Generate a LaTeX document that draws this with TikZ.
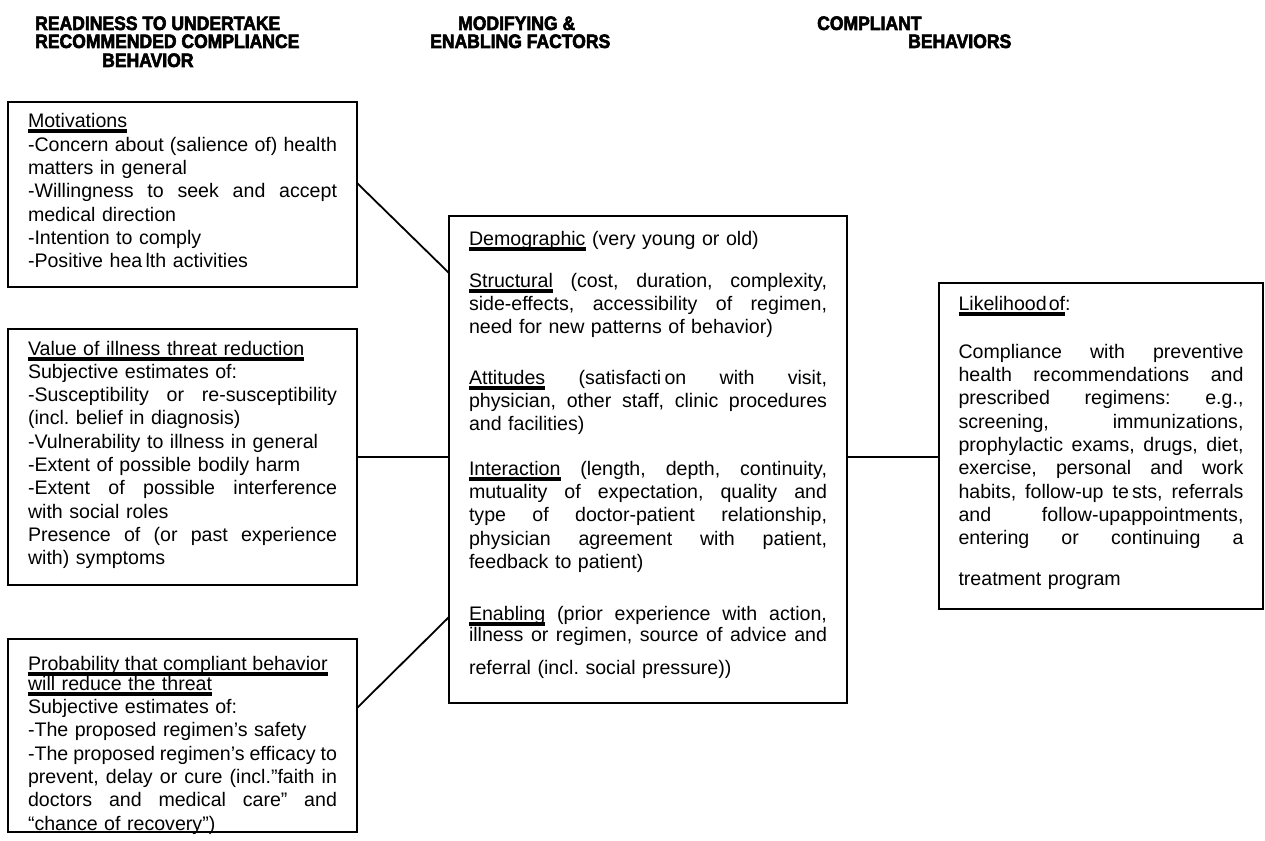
\documentclass[tikz,border=0pt]{standalone}
\usepackage{fontspec}
\setmainfont{Liberation Sans}
\newfontfamily\hdfont[FakeStretch=0.9,FakeBold=3]{Liberation Sans}
\usetikzlibrary{calc}
\newcommand\ul[1]{\leavevmode\setbox0=\hbox{#1}\rlap{\rule[-5.5pt]{\wd0}{4pt}}\box0\relax}
\newcommand\jl[1]{\makebox[\linewidth][s]{\spaceskip=0pt\xspaceskip=0pt #1}}
\tikzset{
  factor/.style={draw, line width=1.4pt, outer sep=0pt, inner xsep=20pt, inner ysep=10pt,
    anchor=north west, align=left, font=\fontsize{19.6}{23.3}\selectfont\frenchspacing},
  link/.style={line width=1.8pt},
  heading/.style={anchor=base west, inner sep=0pt, font=\hdfont\bfseries\fontsize{19.5}{19.5}\selectfont}
}

\begin{document}
\begin{tikzpicture}[x=1pt,y=-1pt]
		%%%%% START %%%%%
		\useasboundingbox (0,0) rectangle (1265,840);
		
		\node[heading] (hdA1) at (35,30) {READINESS TO UNDERTAKE};
		\node[heading] (hdA2) at (35,48) {RECOMMENDED COMPLIANCE};
		\node[heading] (hdA3) at (102,67) {BEHAVIOR};
		\node[heading] (hdB1) at (458,30) {MODIFYING \&};
		\node[heading] (hdB2) at (430,48) {ENABLING FACTORS};
		\node[heading] (hdC1) at (817,30) {COMPLIANT};
		\node[heading] (hdC2) at (908,48) {BEHAVIORS};
		
		\node[factor, text width=309pt, text height=16pt, text depth=149pt] (mot) at (8,102) {%
			\ul{Motivations}\\
			\jl{-Concern about (salience of) health}\\
			matters in general\\
			\jl{-Willingness to seek and accept}\\
			medical direction\\
			-Intention to comply\\
			-Positive hea\,lth activities};
		
		\node[factor, text width=309pt, text height=16pt, text depth=220pt] (val) at (8,329) {%
			\ul{Value of illness threat reduction}\\
			Subjective estimates of:\\
			\jl{-Susceptibility or re-susceptibility}\\
			(incl. belief in diagnosis)\\
			-Vulnerability to illness in general\\
			-Extent of possible bodily harm\\
			\jl{-Extent of possible interference}\\
			with social roles\\
			\jl{Presence of (or past experience}\\
			with) symptoms};
		
		\node[factor, text width=309pt, text height=21pt, text depth=152pt] (prob) at (8,639) {%
			\jl{\ul{Probability that compliant behavior}}\\[-3pt]
			\ul{will reduce the threat}\\
			Subjective estimates of:\\
			-The proposed regimen’s safety\\
			\jl{-The proposed regimen’s efficacy to}\\
			\jl{prevent, delay or cure (incl.”faith in}\\
			\jl{doctors and medical care” and}\\
			“chance of recovery”)};
		
		\node[factor, text width=358pt, text height=19pt, text depth=448pt] (fac) at (449,216) {%
			\ul{Demographic} (very young or old)\\[19pt]
			\jl{\ul{Structural} (cost, duration, complexity,}\\
			\jl{side-effects, accessibility of regimen,}\\
			need for new patterns of behavior)\\[27pt]
			\jl{\ul{Attitudes} (satisfacti\,on with visit,}\\
			\jl{physician, other staff, clinic procedures}\\
			and facilities)\\[21pt]
			\jl{\ul{Interaction} (length, depth, continuity,}\\
			\jl{mutuality of expectation, quality and}\\
			\jl{type of doctor-patient relationship,}\\
			\jl{physician agreement with patient,}\\
			feedback to patient)\\[29pt]
			\jl{\ul{Enabling} (prior experience with action,}\\[-2pt]
			\jl{illness or regimen, source of advice and}\\[9pt]
			referral (incl. social pressure))};
		
		\node[factor, inner xsep=19.5pt, text width=285pt, text height=17pt, text depth=289pt] (lik) at (939,283) {%
			\ul{Likelihood\hspace{2pt}of}:\\[25pt]
			\jl{Compliance with preventive}\\
			\jl{health recommendations and}\\
			\jl{prescribed regimens: e.g.,}\\
			\jl{screening, immunizations,}\\
			\jl{prophylactic exams, drugs, diet,}\\
			\jl{exercise, personal and work}\\
			\jl{habits, follow-up te\,sts, referrals}\\
			\jl{and follow-upappointments,}\\
			\jl{entering or continuing a}\\[17pt]
			treatment program};
		
		\draw[link] ($(mot.north east)+(0,81)$) -- ($(fac.north west)+(0,57)$);
		\draw[link] (val.east) -- (val.east -| fac.west);
		\draw[link] ($(prob.north east)+(0,69)$) -- ($(fac.north west)+(0,401)$);
		\draw[link] (val.east -| fac.east) -- (val.east -| lik.west);
		
		%%%%% END %%%%%
\end{tikzpicture}
\end{document}
